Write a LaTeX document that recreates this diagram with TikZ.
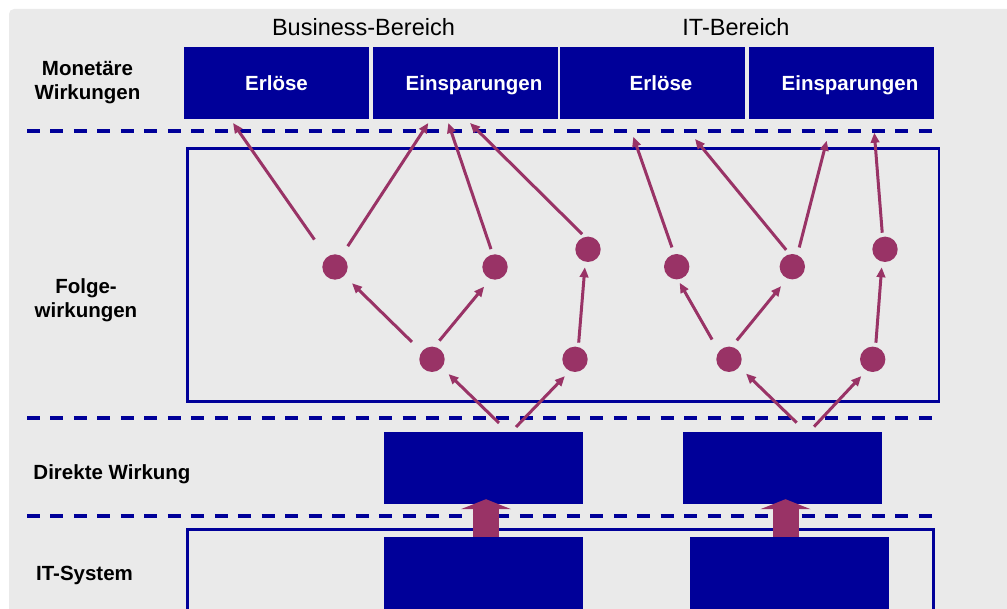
\documentclass[tikz,border=0pt]{standalone}
\usepackage{fontspec}
\setmainfont{Liberation Sans}
\usetikzlibrary{arrows.meta}
\definecolor{bgc}{HTML}{EAEAEA}
\definecolor{navy}{HTML}{000099}
\definecolor{plum}{HTML}{993366}
\begin{document}
\begin{tikzpicture}[x=1pt,y=-1pt,
  topbox/.style={fill=navy, inner sep=0pt, minimum width=185pt, minimum height=72pt, text=white,
    font=\fontsize{20.5}{24}\selectfont\bfseries, text height=15pt, text depth=0pt},
  bluebox/.style={fill=navy, inner sep=0pt, minimum width=199pt, minimum height=72pt},
  rowlabel/.style={font=\fontsize{20.5}{24}\selectfont\bfseries, align=center, inner sep=0pt},
  arealabel/.style={font=\fontsize{23.5}{28}\selectfont, inner sep=0pt, anchor=base},
  dot/.style={circle, fill=plum, minimum size=25.4pt, inner sep=0pt},
  link/.style={draw=plum, line width=3pt, -{Triangle[length=10pt,width=8.5pt]}},
  sepline/.style={draw=navy, line width=4pt, dash pattern=on 13pt off 10.47pt},
  frame/.style={draw=navy, line width=2.7pt},
  fat/.style={draw=plum, line width=26pt, -{Triangle[length=10pt,width=50pt]}},
]
\useasboundingbox (0,0) rectangle (1007,609);
\fill[bgc] (1007,609) -- (9,609) -- (9,14) arc[start angle=180, end angle=270, radius=5] -- (1007,9) -- cycle;

% area headings
\node[arealabel] (bus) at (363.5,36) {Business-Bereich};
\node[arealabel] (itb) at (736,36) {IT-Bereich};

% monetary boxes
\node[topbox] (b1) at (276.5,83) {Erlöse};
\node[topbox] (b2) at (465.5,83) {\hspace*{17pt}Einsparungen};
\node[topbox] (b3) at (652.5,83) {\hspace*{17pt}Erlöse};
\node[topbox] (b4) at (841.5,83) {\hspace*{17pt}Einsparungen};

% row labels
\node[rowlabel] (lmon) at (87.5,82.5) {Monetäre\\Wirkungen};
\node[rowlabel] (lfol) at (86,300) {Folge-\\wirkungen};
\node[rowlabel, anchor=base] (ldir) at (112,479) {Direkte Wirkung};
\node[rowlabel, anchor=base] (lits) at (84.5,580.3) {IT-System};

% separators
\draw[sepline] (27,131) -- (932,131);
\draw[sepline] (27,418) -- (932,418);
\draw[sepline] (27,516) -- (932,516);

% frames
\node[frame, minimum width=751.3pt, minimum height=253.4pt, inner sep=0pt] (ffw) at (563.2,275) {};
\draw[frame] (187.5,615) -- (187.5,529.7) -- (933.8,529.7) -- (933.8,615);

% direct effect and IT system boxes
\node[bluebox] (d1) at (483.5,468) {};
\node[bluebox] (d2) at (782.5,468) {};
\node[bluebox] (s1) at (483.5,573) {};
\node[bluebox] (s2) at (789.5,573) {};

\draw[fat] ([xshift=2.5pt]s1.north) -- ([xshift=2.5pt,yshift=5pt]d1.south);
\draw[fat] ([xshift=-4pt]s2.north) -- ([xshift=3pt,yshift=5pt]d2.south);

% dots
\node[dot] (c1) at (335,267) {};
\node[dot] (c2) at (495,267) {};
\node[dot] (c3) at (588,249.3) {};
\node[dot] (c4) at (432,359.3) {};
\node[dot] (c5) at (575,359.3) {};
\node[dot] (c6) at (676.7,266.7) {};
\node[dot] (c7) at (792.3,266.7) {};
\node[dot] (c8) at (885,249.3) {};
\node[dot] (c9) at (729,359.3) {};
\node[dot] (c10) at (872.7,359.3) {};

% free ends
\coordinate (t1) at (233,123);
\coordinate (t2) at (428.3,123);
\coordinate (t3) at (448.3,123);
\coordinate (t4) at (470,123);
\coordinate (t5) at (633.3,136.7);
\coordinate (t6) at (695,139);
\coordinate (t7) at (826.7,140.7);
\coordinate (t8) at (874.3,132.7);
\coordinate (u1) at (499,423);
\coordinate (u2) at (516,427);
\coordinate (u3) at (796.7,422.7);
\coordinate (u4) at (814,426.7);

% arrows to monetary effects
\draw[link, shorten <=21.4pt] (c1.130) -- (t1);
\draw[link, shorten <=11.5pt] (c1.60) -- (t2);
\draw[link, shorten <=5.5pt] (c2.100) -- (t3);
\draw[link, shorten <=3.8pt] (c3.104) -- (t4);
\draw[link, shorten <=7pt] (c6.101) -- (t5);
\draw[link, shorten <=5.4pt] (c7.102) -- (t6);
\draw[link, shorten <=7.6pt] (c7.67) -- (t7);
\draw[link, shorten <=3.9pt] (c8.101) -- (t8);

% arrows between dots
\draw[link, shorten <=13.7pt, shorten >=10.6pt] (c4.143) -- (c1.317);
\draw[link, shorten <=7.7pt, shorten >=9.8pt] (c4.79) -- (c2.249);
\draw[link, shorten <=4.2pt, shorten >=5.4pt] (c5.75) -- (c3.258);
\draw[link, shorten <=13.6pt, shorten >=3.7pt] (c9.142) -- (c6.275);
\draw[link, shorten <=8.1pt, shorten >=9.8pt] (c9.78) -- (c7.247);
\draw[link, shorten <=4pt, shorten >=5.4pt] (c10.77) -- (c8.257);

% arrows from direct effects
\draw[link, shorten >=9.3pt] (u1) -- (c4.320);
\draw[link, shorten >=7pt] (u2) -- (c5.246);
\draw[link, shorten >=9.4pt] (u3) -- (c9.323);
\draw[link, shorten >=7.5pt] (u4) -- (c10.241);
\end{tikzpicture}
\end{document}
